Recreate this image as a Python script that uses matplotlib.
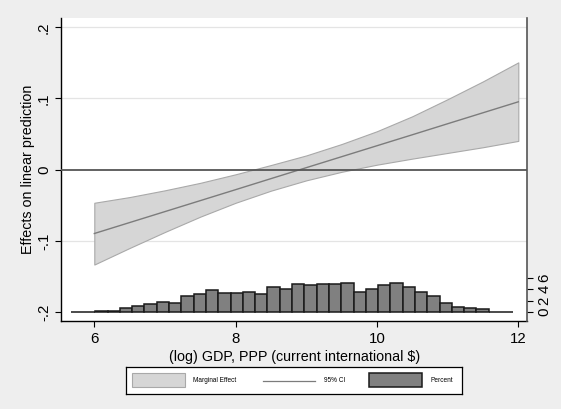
import numpy as np
import matplotlib
matplotlib.use("Agg")
import matplotlib.pyplot as plt
from matplotlib.patches import Rectangle

plt.rcParams['font.family'] = ['Liberation Sans', 'DejaVu Sans']

# Marginal effect of the moderator, evaluated at log GDP values
gdp_at = [6, 6.5, 7, 7.5, 8, 8.5, 9, 9.5, 10, 10.5, 11, 11.5, 12]
effect = [-0.0897, -0.0743, -0.0589, -0.0435, -0.0281, -0.0126, 0.0028,
          0.0182, 0.0336, 0.0490, 0.0645, 0.0799, 0.0953]
ci_upper = [-0.0465, -0.0385, -0.0290, -0.0185, -0.0065, 0.0065, 0.0200,
            0.0360, 0.0540, 0.0750, 0.0990, 0.1240, 0.1507]
ci_lower = [-0.1333, -0.1100, -0.0875, -0.0660, -0.0465, -0.0295, -0.0150,
            -0.0030, 0.0070, 0.0155, 0.0235, 0.0315, 0.0404]

# Distribution of log GDP (percent of observations per bin)
bin_start = 5.666
bin_width = 0.174
pct = [0.05, 0.05, 0.24, 0.21, 0.68, 1.13, 1.47, 1.77, 1.64, 2.76,
       3.08, 3.88, 3.40, 3.38, 3.45, 3.19, 4.28, 4.07, 4.85, 4.71,
       4.85, 4.85, 5.14, 3.58, 4.10, 4.66, 5.11, 4.45, 3.53, 2.71,
       1.50, 0.91, 0.64, 0.48, 0.05, 0.05]

x_ticks = [6, 8, 10, 12]
y_ticks = [-0.2, -0.1, 0, 0.1, 0.2]
y_tick_labels = ['-.2', '-.1', '0', '.1', '.2']
pct_ticks = [0, 2, 4, 6]

W, H = 561, 409
fig = plt.figure(figsize=(W / 100, H / 100), dpi=100, facecolor='#eeeeee')

left, right, top, bottom = 61.3, 527.0, 18.3, 321.3
ax = fig.add_axes([left / W, 1 - bottom / H, (right - left) / W, (bottom - top) / H])
ax.set_facecolor('white')

ax.set_xlim(5.533, 12.123)
ax.set_ylim(-0.213, 0.2126)

for yv in [-0.1, 0.1, 0.2]:
    ax.axhline(yv, color='#e4e4e4', lw=0.9, zorder=0)

ax.fill_between(gdp_at, ci_lower, ci_upper, facecolor='#d6d6d6',
                edgecolor='#a9a9a9', lw=0.8, zorder=2)
ax.plot(gdp_at, effect, color='#7c7c7c', lw=1.0, zorder=3)
ax.axhline(0, color='#555555', lw=1.3, zorder=4)

ax.set_xticks(x_ticks)
ax.set_xticklabels([str(v) for v in x_ticks], fontsize=10.8)
ax.set_yticks(y_ticks)
ax.set_yticklabels(y_tick_labels, fontsize=10.8, rotation=90, va='center')
ax.tick_params(axis='both', direction='out', length=4.5, width=0.8, color='black', pad=3)

ax.set_xlabel('(log) GDP, PPP (current international $)', fontsize=10.3, labelpad=3)
ax.set_ylabel('Effects on linear prediction', fontsize=10.3, labelpad=1)

ax.spines['top'].set_visible(False)
ax.spines['right'].set_visible(False)
for s in ['left', 'bottom']:
    ax.spines[s].set_color('black')
    ax.spines[s].set_linewidth(1.0)

# Histogram on a secondary axis
ax2 = ax.twinx()
ax2.set_ylim(-1.63, 51.35)
edges = bin_start + bin_width * np.arange(len(pct))
ax2.bar(edges, pct, width=bin_width, align='edge', color='#808080',
        edgecolor='#1a1a1a', linewidth=1.1, zorder=3)
ax2.set_yticks(pct_ticks)
ax2.set_yticklabels([str(v) for v in pct_ticks], fontsize=10.8, rotation=90, va='center')
ax2.tick_params(axis='y', direction='out', length=4.5, width=0.8, color='black', pad=3)
for s in ['top', 'left', 'bottom']:
    ax2.spines[s].set_visible(False)
ax2.spines['right'].set_color('#555555')
ax2.spines['right'].set_linewidth(1.2)

# Legend box
lx0, lx1, ly0, ly1 = 125.7, 462.3, 367.3, 393.7
lax = fig.add_axes([lx0 / W, 1 - ly1 / H, (lx1 - lx0) / W, (ly1 - ly0) / H])
lax.set_xlim(0, lx1 - lx0)
lax.set_ylim(ly1 - ly0, 0)
lax.set_xticks([])
lax.set_yticks([])
lax.set_facecolor('white')
for s in lax.spines.values():
    s.set_color('black')
    s.set_linewidth(0.9)

ymid = 13.2
lax.add_patch(Rectangle((6.6, 6.0), 52.7, 14.0, facecolor='#d6d6d6',
                        edgecolor='#a9a9a9', lw=0.8))
lax.text(67.6, ymid, 'Marginal Effect', fontsize=4.7, va='center', ha='left')
lax.plot([137.6, 189.3], [ymid, ymid], color='#7c7c7c', lw=0.9)
lax.text(198.3, ymid, '95% CI', fontsize=4.7, va='center', ha='left')
lax.add_patch(Rectangle((243.6, 6.0), 53.0, 14.0, facecolor='#808080',
                        edgecolor='#1a1a1a', lw=1.1))
lax.text(305.0, ymid, 'Percent', fontsize=4.7, va='center', ha='left')

fig.savefig('out.png', dpi=100, facecolor=fig.get_facecolor())
